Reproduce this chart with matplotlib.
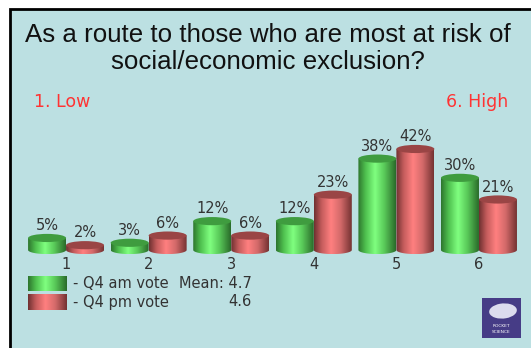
import numpy as np
import matplotlib.pyplot as plt
from matplotlib.patches import Rectangle, Ellipse, PathPatch
from matplotlib.path import Path
from matplotlib.colors import LinearSegmentedColormap

# scores 1..6 and share of votes (%)
scores = [1, 2, 3, 4, 5, 6]
am_vote = [5, 3, 12, 12, 38, 30]
pm_vote = [2, 6, 6, 23, 42, 21]
am_mean = 4.7
pm_mean = 4.6
series_names = ['- Q4 am vote', '- Q4 pm vote']

W, H = 531, 348
BG = '#bce0e2'

green_cm = LinearSegmentedColormap.from_list(
    'g', [(0, '#2d742d'), (0.2, '#4fc04f'), (0.45, '#80ff80'), (0.7, '#58c858'), (1, '#2a6a2a')])
red_cm = LinearSegmentedColormap.from_list(
    'r', [(0, '#6e3030'), (0.2, '#c45c5c'), (0.45, '#ff8080'), (0.7, '#d46a6a'), (1, '#743232')])
grad = np.linspace(0, 1, 256).reshape(1, -1)

fig = plt.figure(figsize=(W / 100, H / 100), dpi=100)
fig.patch.set_facecolor('white')

# panel with black frame, running off the right and bottom edges
fig.patches.append(Rectangle((10 / W, -0.05), 1.1, (H - 9) / H + 0.05,
                             transform=fig.transFigure, facecolor=BG,
                             edgecolor='black', linewidth=2, zorder=-10))

ax = fig.add_axes([0, 0, 1, 1])
ax.set_xlim(0.2, 6.63)
ax.set_ylim(-40.75, 103.95)
ax.axis('off')

bw = 0.46          # bar width in category units
eh = 3.4           # ellipse height in % units


def cylinder(xc, v, cmap, top_col, z):
    a, b = bw / 2, eh / 2
    t = np.linspace(0, np.pi, 40)
    verts = [(xc - a, v), (xc + a, v)]
    verts += [(xc + a * np.cos(s), -b * np.sin(s)) for s in t]
    verts.append((xc - a, v))
    path = Path(verts, [Path.MOVETO] + [Path.LINETO] * (len(verts) - 2) + [Path.CLOSEPOLY])
    clip = PathPatch(path, facecolor='none', edgecolor='none')
    ax.add_patch(clip)
    im = ax.imshow(grad, cmap=cmap, extent=[xc - a, xc + a, -b, v], aspect='auto',
                   interpolation='bilinear', zorder=z)
    im.set_clip_path(clip)
    ax.add_patch(Ellipse((xc, v), bw, eh, facecolor=top_col, edgecolor='none', zorder=z + 0.5))


for i, s in enumerate(scores):
    xg = s - bw / 2
    xr = s + bw / 2
    cylinder(xg, am_vote[i], green_cm, '#3f9c3f', 2 + i * 2)
    cylinder(xr, pm_vote[i], red_cm, '#9a4545', 3 + i * 2)
    ax.text(xg, am_vote[i] + 3.3, f'{am_vote[i]}%', ha='center', va='baseline',
            fontsize=10.5, color='#333333', zorder=20)
    ax.text(xr, pm_vote[i] + 3.3, f'{pm_vote[i]}%', ha='center', va='baseline',
            fontsize=10.5, color='#333333', zorder=20)
    ax.text(s, -6, str(s), ha='center', va='center', fontsize=10.5, color='#333333')

# title
fig.text(268 / W, 1 - 35.5 / H, 'As a route to those who are most at risk of',
         ha='center', va='center', fontsize=18.6, family='Liberation Sans', color='#111111')
fig.text(268 / W, 1 - 62 / H, 'social/economic exclusion?',
         ha='center', va='center', fontsize=18.6, family='Liberation Sans', color='#111111')
fig.text(34 / W, 1 - 102 / H, '1. Low', ha='left', va='center', fontsize=12.5,
         color='#ff3333')
fig.text(508 / W, 1 - 102 / H, '6. High', ha='right', va='center', fontsize=12.5,
         color='#ff3333')


def swatch(x0, y0, x1, y1, cmap):
    sa = fig.add_axes([x0 / W, 1 - y1 / H, (x1 - x0) / W, (y1 - y0) / H])
    sa.imshow(grad, cmap=cmap, aspect='auto', interpolation='bilinear')
    sa.axis('off')


swatch(28, 276, 67, 291, green_cm)
swatch(28, 294, 67, 310, red_cm)
fig.text(73 / W, 1 - 284 / H, series_names[0], ha='left', va='center', fontsize=10.5, color='#333333')
fig.text(73 / W, 1 - 302 / H, series_names[1], ha='left', va='center', fontsize=10.5, color='#333333')
fig.text(252 / W, 1 - 284 / H, f'Mean: {am_mean}', ha='right', va='center', fontsize=10.5, color='#333333')
fig.text(252 / W, 1 - 302 / H, f'{pm_mean}', ha='right', va='center', fontsize=10.5, color='#333333')

# logo block
fig.patches.append(Rectangle((482 / W, 1 - 338 / H), 39 / W, 40 / H, transform=fig.transFigure,
                             facecolor='#463c86', edgecolor='none', zorder=5))
fig.patches.append(Ellipse((503 / W, 1 - 311 / H), 28 / W, 15 / H, angle=15, transform=fig.transFigure,
                           facecolor='#dcdcee', edgecolor='none', zorder=6))
fig.text(501 / W, 1 - 326 / H, 'ROCKET', ha='center', va='center', fontsize=3.2, color='white', zorder=7)
fig.text(501 / W, 1 - 332 / H, 'SCIENCE', ha='center', va='center', fontsize=3.2, color='white', zorder=7)

fig.savefig('out.png', dpi=100, facecolor=fig.get_facecolor())
